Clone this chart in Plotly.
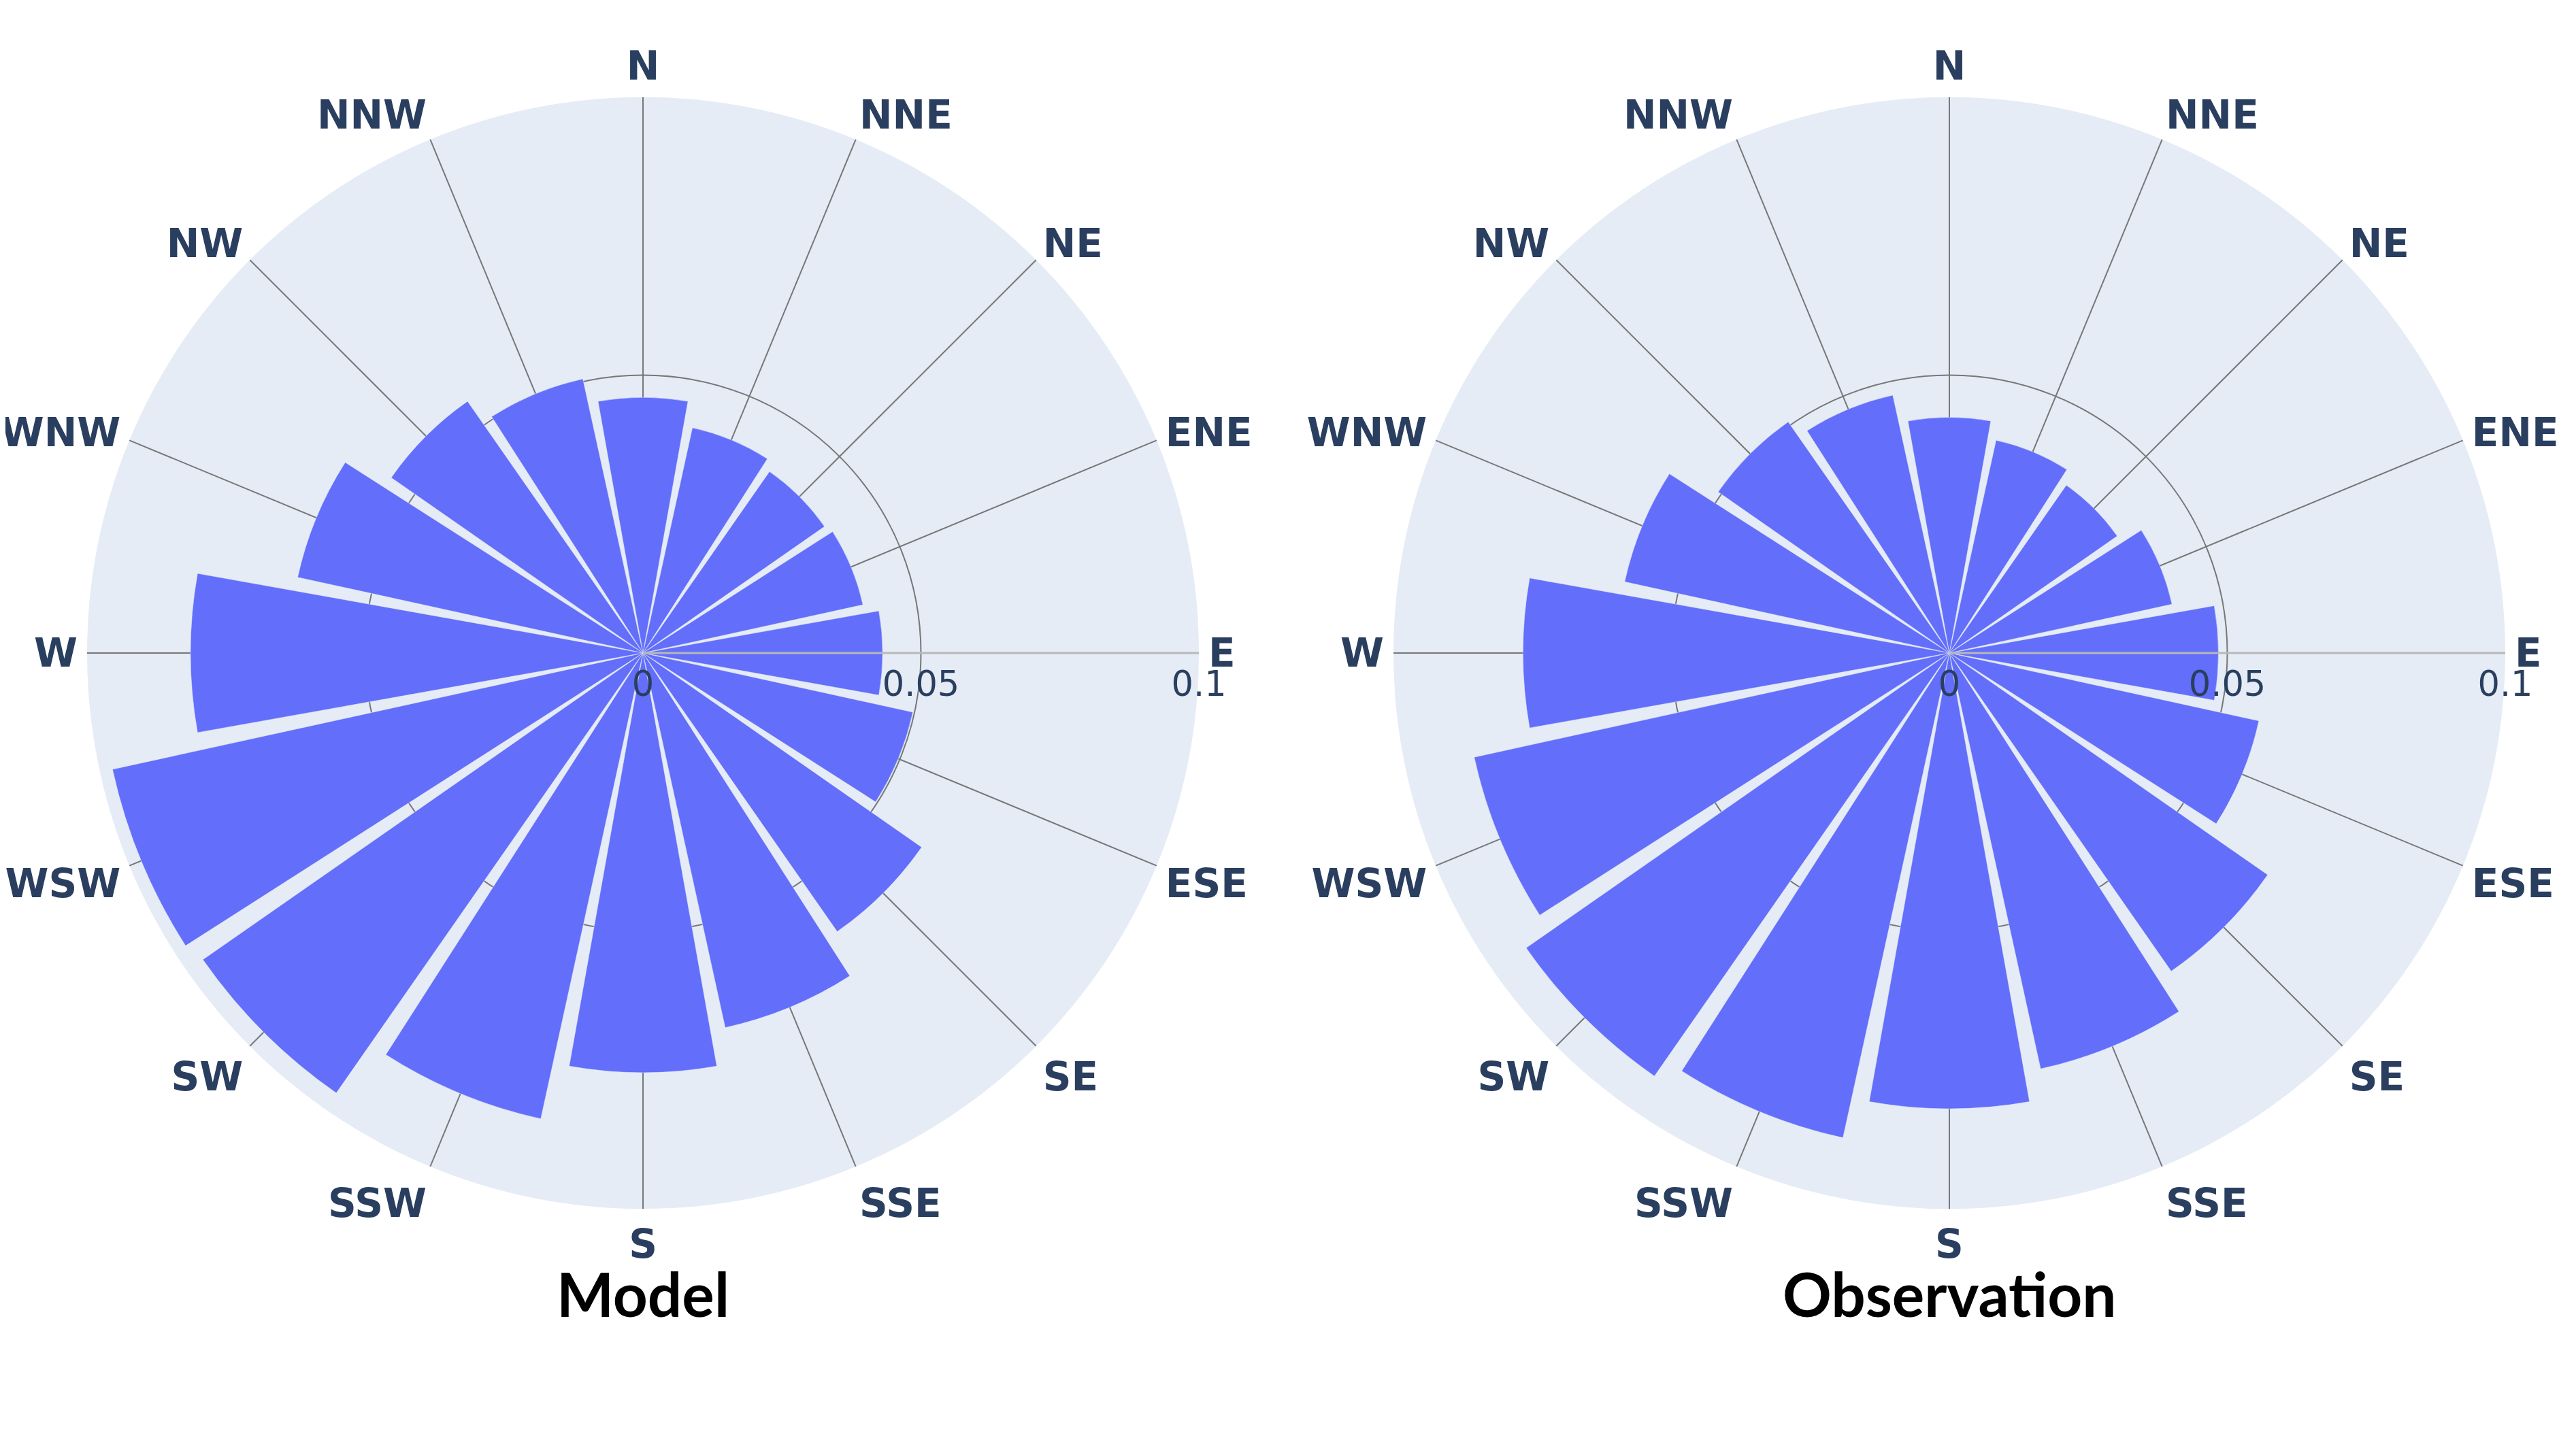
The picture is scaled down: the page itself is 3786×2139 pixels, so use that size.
import plotly.graph_objects as go

directions = ["N", "NNE", "NE", "ENE", "E", "ESE", "SE", "SSE",
              "S", "SSW", "SW", "WSW", "W", "WNW", "NW", "NNW"]
model = [0.0460, 0.0415, 0.0398, 0.0405, 0.0431, 0.0497, 0.0611, 0.0690,
         0.0755, 0.0858, 0.0965, 0.0977, 0.0814, 0.0636, 0.0552, 0.0505]
observation = [0.0424, 0.0392, 0.0368, 0.0410, 0.0484, 0.0570, 0.0698, 0.0766,
               0.0820, 0.0893, 0.0928, 0.0875, 0.0767, 0.0598, 0.0507, 0.0475]
titles = ["Model", "Observation"]
radial_ticks = [0, 0.05, 0.1]

W, H = 3786, 2139
BAR = "#636efa"
GRID = "#777777"

fig = go.Figure()
fig.add_trace(go.Barpolar(r=model, theta=directions, marker_color=BAR,
                          subplot="polar", showlegend=False))
fig.add_trace(go.Barpolar(r=observation, theta=directions, marker_color=BAR,
                          subplot="polar2", showlegend=False))

def polar_layout(x0, x1):
    return dict(
        domain=dict(x=[x0, x1], y=[0.17298, 0.93689]),
        bgcolor="#E5ECF6",
        angularaxis=dict(
            rotation=90, direction="clockwise",
            categoryorder="array", categoryarray=directions,
            gridcolor=GRID, gridwidth=2, showline=False,
            ticks="outside", ticklen=2, tickcolor="rgba(0,0,0,0)",
            tickfont=dict(family="DejaVu Sans", size=58, color="#2a3f5f", weight="bold"),
        ),
        radialaxis=dict(
            range=[0, 0.1], tickvals=radial_ticks, ticktext=["0", "0.05", "0.1"],
            angle=0, gridcolor=GRID, gridwidth=2,
            showline=True, linecolor="#b8b8b8", linewidth=3, ticks="",
            tickfont=dict(family="DejaVu Sans", size=51, color="#2a3f5f"),
        ),
    )

fig.update_layout(
    width=W, height=H,
    margin=dict(l=0, r=0, t=0, b=0),
    paper_bgcolor="white",
    polar=polar_layout(0.03170, 0.46329),
    polar2=polar_layout(0.53883, 0.97042),
    annotations=[
        dict(text="<b>%s</b>" % titles[0], x=937 / W, y=0.115, xref="paper", yref="paper",
             xanchor="center", yanchor="middle", showarrow=False,
             font=dict(family="Lato", size=89, color="black")),
        dict(text="<b>%s</b>" % titles[1], x=2857 / W, y=0.115, xref="paper", yref="paper",
             xanchor="center", yanchor="middle", showarrow=False,
             font=dict(family="Lato", size=89, color="black")),
    ],
)

fig.write_html("out.html")
